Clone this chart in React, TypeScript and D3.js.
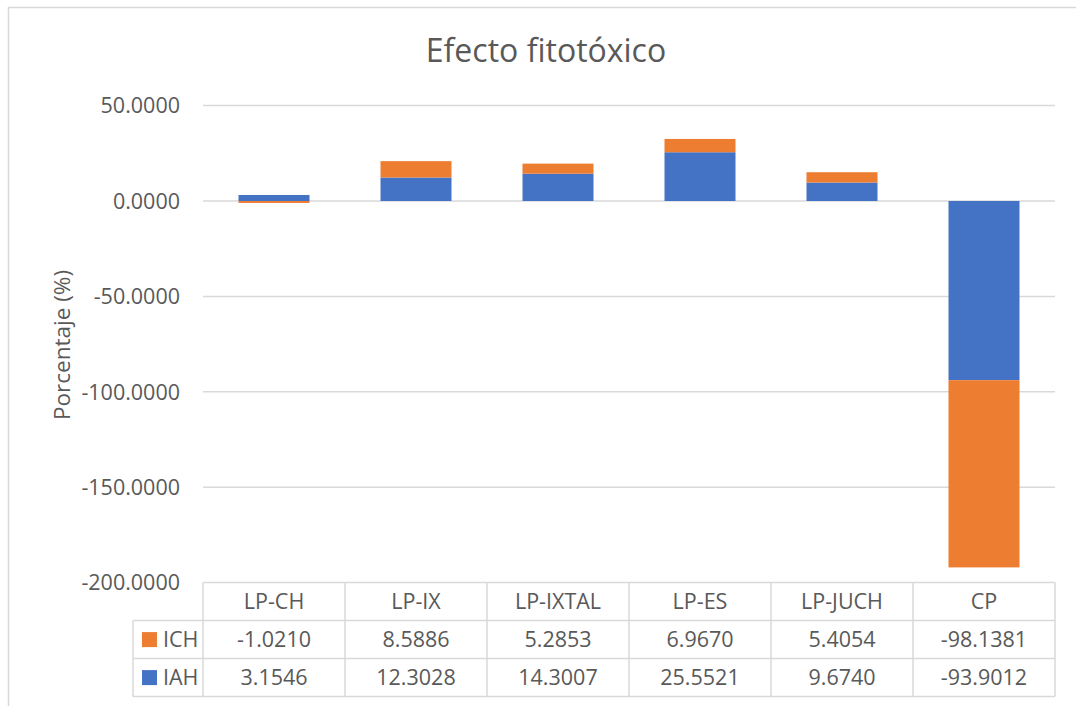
import React from "react";
import * as d3 from "d3";

// Categories and series values (percent)
const categories = ["LP-CH", "LP-IX", "LP-IXTAL", "LP-ES", "LP-JUCH", "CP"];
const seriesNames = ["IAH", "ICH"];
const iahValues = [3.1546, 12.3028, 14.3007, 25.5521, 9.674, -93.9012];
const ichValues = [-1.021, 8.5886, 5.2853, 6.967, 5.4054, -98.1381];
const yTicks = [50, 0, -50, -100, -150, -200];

const colors: Record<string, string> = { IAH: "#4472C4", ICH: "#ED7D31" };
const textColor = "#595959";
const gridColor = "#D9D9D9";
const font = "'Open Sans', 'DejaVu Sans', sans-serif";

const W = 1076;
const H = 706;
const plotLeft = 203;
const plotRight = 1055;
const plotTop = 105.6;
const plotBottom = 582.6;
const rowH = 38;
const labelSize = 21.5;

// number format with a plain hyphen for negatives
const locale = d3.formatLocale({
  decimal: ".",
  thousands: ",",
  grouping: [3],
  currency: ["", ""],
  minus: "-",
});
const fmt = locale.format(".4f");

export default function App() {
  const rows = categories.map((c, i) => ({ cat: c, IAH: iahValues[i], ICH: ichValues[i] }));
  const stack = d3
    .stack<any>()
    .keys(seriesNames)
    .offset(d3.stackOffsetDiverging);
  const layers = stack(rows);

  const x = d3
    .scaleBand<string>()
    .domain(categories)
    .range([plotLeft, plotRight])
    .paddingInner(0.5)
    .paddingOuter(0.25);
  const y = d3.scaleLinear().domain([-200, 50]).range([plotBottom, plotTop]);

  const step = x.step();
  const colLeft = (c: string) => (x(c) as number) - (step - x.bandwidth()) / 2;
  const tableTop = y(-200);
  const legendLeft = 133;

  const tableRows = [
    { name: "ICH", values: ichValues },
    { name: "IAH", values: iahValues },
  ];

  return (
    <svg
      width={W}
      height={H}
      style={{ position: "absolute", left: 0, top: 0, display: "block", background: "#fff" }}
      fontFamily={font}
    >
      <rect x={0} y={0} width={W} height={H} fill="#fff" />
      {/* chart frame */}
      <rect x={8.5} y={7.5} width={W + 10} height={H + 10} fill="none" stroke={gridColor} strokeWidth={1.5} />

      <text x={546} y={62} textAnchor="middle" fontSize={32} fill={textColor}>
        Efecto fitotóxico
      </text>

      {/* gridlines and value axis labels */}
      {yTicks.map((t) => (
        <g key={t}>
          {t !== -200 && (
            <line x1={plotLeft} x2={plotRight} y1={y(t)} y2={y(t)} stroke={gridColor} strokeWidth={1.5} />
          )}
          <text x={180} y={y(t)} dy="0.36em" textAnchor="end" fontSize={labelSize} fill={textColor}>
            {fmt(t)}
          </text>
        </g>
      ))}

      <text
        transform={`translate(62,345) rotate(-90)`}
        textAnchor="middle"
        dy="0.36em"
        fontSize={22.5}
        fill={textColor}
      >
        Porcentaje (%)
      </text>

      {/* stacked bars */}
      {layers.map((layer) => (
        <g key={layer.key} fill={colors[layer.key]}>
          {layer.map((d: any) => (
            <rect
              key={d.data.cat}
              x={x(d.data.cat)}
              width={x.bandwidth()}
              y={y(Math.max(d[0], d[1]))}
              height={Math.abs(y(d[0]) - y(d[1]))}
            />
          ))}
        </g>
      ))}

      {/* data table */}
      <g stroke={gridColor} strokeWidth={1.5} fill="none">
        <line x1={plotLeft} x2={plotRight} y1={tableTop} y2={tableTop} />
        <line x1={legendLeft} x2={plotRight} y1={tableTop + rowH} y2={tableTop + rowH} />
        <line x1={legendLeft} x2={plotRight} y1={tableTop + 2 * rowH} y2={tableTop + 2 * rowH} />
        <line x1={legendLeft} x2={plotRight} y1={tableTop + 3 * rowH} y2={tableTop + 3 * rowH} />
        <line x1={legendLeft} x2={legendLeft} y1={tableTop + rowH} y2={tableTop + 3 * rowH} />
        {categories.map((c) => (
          <line key={c} x1={colLeft(c)} x2={colLeft(c)} y1={tableTop} y2={tableTop + 3 * rowH} />
        ))}
        <line x1={plotRight} x2={plotRight} y1={tableTop} y2={tableTop + 3 * rowH} />
      </g>

      {categories.map((c) => (
        <text
          key={c}
          x={(x(c) as number) + x.bandwidth() / 2}
          y={tableTop + rowH / 2}
          dy="0.36em"
          textAnchor="middle"
          fontSize={labelSize}
          fill={textColor}
        >
          {c}
        </text>
      ))}

      {tableRows.map((r, ri) => {
        const cy = tableTop + rowH * (ri + 1) + rowH / 2;
        return (
          <g key={r.name}>
            <rect x={142} y={cy - 7.5} width={15} height={15} fill={colors[r.name]} />
            <text x={163} y={cy} dy="0.36em" fontSize={labelSize} fill={textColor}>
              {r.name}
            </text>
            {r.values.map((v, i) => (
              <text
                key={i}
                x={(x(categories[i]) as number) + x.bandwidth() / 2}
                y={cy}
                dy="0.36em"
                textAnchor="middle"
                fontSize={labelSize}
                fill={textColor}
              >
                {fmt(v)}
              </text>
            ))}
          </g>
        );
      })}
    </svg>
  );
}
